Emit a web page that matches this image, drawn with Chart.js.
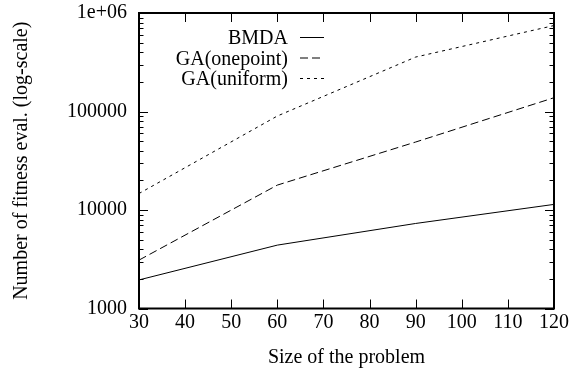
<!DOCTYPE html>
<html>
<head>
<meta charset="utf-8">
<script src="https://cdn.jsdelivr.net/npm/chart.js@4/dist/chart.umd.min.js"></script>
<style>
html,body{margin:0;padding:0;background:#fff;}
#wrap{width:570px;height:377px;position:relative;}
</style>
</head>
<body>
<div id="wrap"><canvas id="c" width="570" height="377"></canvas></div>
<script>
const sizes = [30, 60, 90, 120];
const bmda = [1950, 4400, 7300, 11400];
const gaOnepoint = [3100, 17900, 49000, 138000];
const gaUniform = [14700, 90000, 357000, 746000];
const seriesLabels = ['BMDA', 'GA(onepoint)', 'GA(uniform)'];
const xTicks = [30, 40, 50, 60, 70, 80, 90, 100, 110, 120];
const yMajor = [1000, 10000, 100000, 1000000];
const yMajorLabels = ['1000', '10000', '100000', '1e+06'];
const xTitle = 'Size of the problem';
const yTitle = 'Number of fitness eval. (log-scale)';

const FONT = 'Liberation Serif';
const dashes = [[], [8, 4], [3, 4]];

function pts(arr){ return sizes.map((s,i)=>({x:s,y:arr[i]})); }

const frame = {
  id: 'frame',
  afterDatasetsDraw(chart){
    const {ctx, chartArea:a, scales:{x, y}} = chart;
    ctx.save();
    ctx.strokeStyle = '#000';
    ctx.fillStyle = '#000';
    ctx.lineWidth = 1;
    ctx.font = '20px "' + FONT + '"';
    // x ticks bottom & top + labels
    ctx.textAlign = 'center';
    ctx.textBaseline = 'middle';
    xTicks.forEach(v=>{
      const px = Math.round(x.getPixelForValue(v))+0.5;
      ctx.beginPath();
      ctx.moveTo(px, a.bottom); ctx.lineTo(px, a.bottom-9);
      ctx.moveTo(px, a.top); ctx.lineTo(px, a.top+9);
      ctx.stroke();
      ctx.fillText(String(v), x.getPixelForValue(v), a.bottom + 14);
    });
    // y ticks
    for (let d = 3; d <= 6; d++) {
      for (let m = 1; m <= 9; m++) {
        const v = m * Math.pow(10, d);
        if (v > 1000000) break;
        const py = Math.round(y.getPixelForValue(v))+0.5;
        const len = m === 1 ? 9 : 4.5;
        ctx.beginPath();
        ctx.moveTo(a.left, py); ctx.lineTo(a.left+len, py);
        ctx.moveTo(a.right, py); ctx.lineTo(a.right-len, py);
        ctx.stroke();
      }
    }
    ctx.textAlign = 'right';
    yMajor.forEach((v,i)=>{
      ctx.fillText(yMajorLabels[i], a.left - 12, y.getPixelForValue(v));
    });
    // border
    ctx.lineWidth = 2;
    ctx.strokeRect(a.left, a.top, a.right-a.left, a.bottom-a.top);
    // legend
    ctx.textAlign = 'right';
    ctx.textBaseline = 'alphabetic';
    ctx.lineWidth = 1;
    chart.data.datasets.forEach((ds, i)=>{
      const by = 44 + 20.5*i;
      ctx.fillText(ds.label, 288, by);
      ctx.setLineDash(ds.borderDash || []);
      ctx.beginPath();
      ctx.moveTo(300, by-6.5); ctx.lineTo(324, by-6.5);
      ctx.stroke();
      ctx.setLineDash([]);
    });
    ctx.restore();
  }
};

new Chart(document.getElementById('c'), {
  type: 'line',
  data: {
    datasets: [
      {label: seriesLabels[0], data: pts(bmda), borderDash: dashes[0]},
      {label: seriesLabels[1], data: pts(gaOnepoint), borderDash: dashes[1]},
      {label: seriesLabels[2], data: pts(gaUniform), borderDash: dashes[2]}
    ].map(d=>Object.assign(d,{borderColor:'#000', borderWidth:1, pointRadius:0, fill:false, tension:0}))
  },
  options: {
    responsive: false,
    animation: false,
    layout: {padding: {top: 13, right: 16, left: 0, bottom: 0}},
    plugins: {legend: {display:false}, tooltip:{enabled:false}},
    scales: {
      x: {
        type: 'linear', min: 30, max: 120,
        afterBuildTicks(s){ s.ticks = xTicks.map(v=>({value:v})); },
        afterFit(s){ s.height = 68.5; },
        grid: {display:false, drawTicks:false},
        border: {display:false},
        ticks: {display:false},
        title: {display:true, text:xTitle, color:'#000', font:{family:FONT, size:20}, padding:{top:0,bottom:7}}
      },
      y: {
        type: 'logarithmic', min: 1000, max: 1000000,
        afterBuildTicks(s){ s.ticks = yMajor.map(v=>({value:v})); },
        afterFit(s){ s.width = 139; },
        grid: {display:false, drawTicks:false},
        border: {display:false},
        ticks: {display:false},
        title: {display:true, text:yTitle, color:'#000', font:{family:FONT, size:20}, padding:{top:10,bottom:0}}
      }
    }
  },
  plugins: [frame]
});
</script>
</body>
</html>
